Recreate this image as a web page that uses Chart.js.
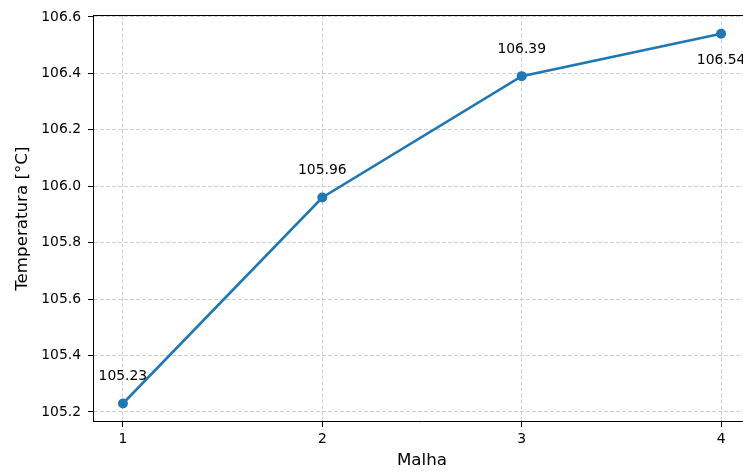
<!DOCTYPE html>
<html>
<head>
<meta charset="utf-8">
<script src="https://cdn.jsdelivr.net/npm/chart.js@4/dist/chart.umd.min.js"></script>
<style>
  html, body { margin: 0; padding: 0; background: #fff; overflow: hidden; }
  #wrap { width: 760px; height: 471px; }
</style>
</head>
<body>
<div id="wrap"><canvas id="c" width="760" height="471"></canvas></div>
<script>
// Mesh refinement study: temperature per mesh
const malhas = [1, 2, 3, 4];
const temperaturas = [105.23, 105.96, 106.39, 106.54];
const xTicks = [1, 2, 3, 4];
const yTicks = [105.2, 105.4, 105.6, 105.8, 106.0, 106.2, 106.4, 106.6];
// label offsets (px, negative = above the point)
const labelOffsets = [-27, -27, -27, 27];

const FONT = "'DejaVu Sans', sans-serif";
const BLUE = '#1f77b4';

// Frame lines on the top and right sides of the plot area
const framePlugin = {
  id: 'frame',
  afterDraw(chart) {
    const { ctx, chartArea: a } = chart;
    ctx.save();
    ctx.strokeStyle = '#000';
    ctx.lineWidth = 1;
    ctx.beginPath();
    ctx.moveTo(a.left, Math.round(a.top) + 0.5);
    ctx.lineTo(a.right, Math.round(a.top) + 0.5);
    ctx.moveTo(a.right - 0.5, a.top);
    ctx.lineTo(a.right - 0.5, a.bottom);
    ctx.stroke();
    ctx.restore();
  }
};

// Value labels next to each point
const valueLabels = {
  id: 'valueLabels',
  afterDatasetsDraw(chart) {
    const { ctx } = chart;
    const meta = chart.getDatasetMeta(0);
    ctx.save();
    ctx.font = '13.9px ' + FONT;
    ctx.fillStyle = '#000';
    ctx.textAlign = 'center';
    ctx.textBaseline = 'middle';
    meta.data.forEach((pt, i) => {
      const v = chart.data.datasets[0].data[i].y;
      ctx.fillText(v.toFixed(2), pt.x, pt.y + labelOffsets[i]);
    });
    ctx.restore();
  }
};

new Chart(document.getElementById('c'), {
  type: 'line',
  data: {
    datasets: [{
      data: malhas.map((m, i) => ({ x: m, y: temperaturas[i] })),
      borderColor: BLUE,
      backgroundColor: BLUE,
      borderWidth: 2.6,
      pointRadius: 5,
      pointHoverRadius: 5,
      pointBackgroundColor: BLUE,
      pointBorderColor: BLUE,
      pointBorderWidth: 0,
      tension: 0,
      fill: false
    }]
  },
  options: {
    responsive: false,
    animation: false,
    devicePixelRatio: 1,
    layout: { padding: { top: 13, right: 9, left: 0, bottom: 0 } },
    plugins: { legend: { display: false }, tooltip: { enabled: false } },
    scales: {
      x: {
        type: 'linear',
        min: 0.85,
        max: 4.15,
        afterBuildTicks(scale) { scale.ticks = xTicks.map(v => ({ value: v })); },
        afterFit(scale) { scale.height = 49; },
        ticks: {
          color: '#000',
          font: { family: FONT, size: 13.9 },
          padding: 4,
          callback: v => String(v)
        },
        grid: {
          color: 'rgba(176,176,176,0.6)',
          lineWidth: 1,
          drawTicks: true,
          tickLength: 5,
          tickColor: '#000',
          tickWidth: 1,
          tickBorderDash: []
        },
        border: { display: true, color: '#000', width: 1, dash: [4, 2] },
        title: {
          display: true,
          text: 'Malha',
          color: '#000',
          font: { family: FONT, size: 16.7 },
          padding: { top: 0, bottom: 0 }
        }
      },
      y: {
        type: 'linear',
        min: 105.1645,
        max: 106.6055,
        afterBuildTicks(scale) { scale.ticks = yTicks.map(v => ({ value: v })); },
        afterFit(scale) { scale.width = 93; },
        ticks: {
          color: '#000',
          font: { family: FONT, size: 13.9 },
          padding: 7,
          callback: v => Number(v).toFixed(1)
        },
        grid: {
          color: 'rgba(176,176,176,0.6)',
          lineWidth: 1,
          drawTicks: true,
          tickLength: 5,
          tickColor: '#000',
          tickWidth: 1,
          tickBorderDash: []
        },
        border: { display: true, color: '#000', width: 1, dash: [4, 2] },
        title: {
          display: true,
          text: 'Temperatura [°C]',
          color: '#000',
          font: { family: FONT, size: 16.7 },
          padding: { top: 13, bottom: 0 }
        }
      }
    }
  },
  plugins: [framePlugin, valueLabels]
});
</script>
</body>
</html>
